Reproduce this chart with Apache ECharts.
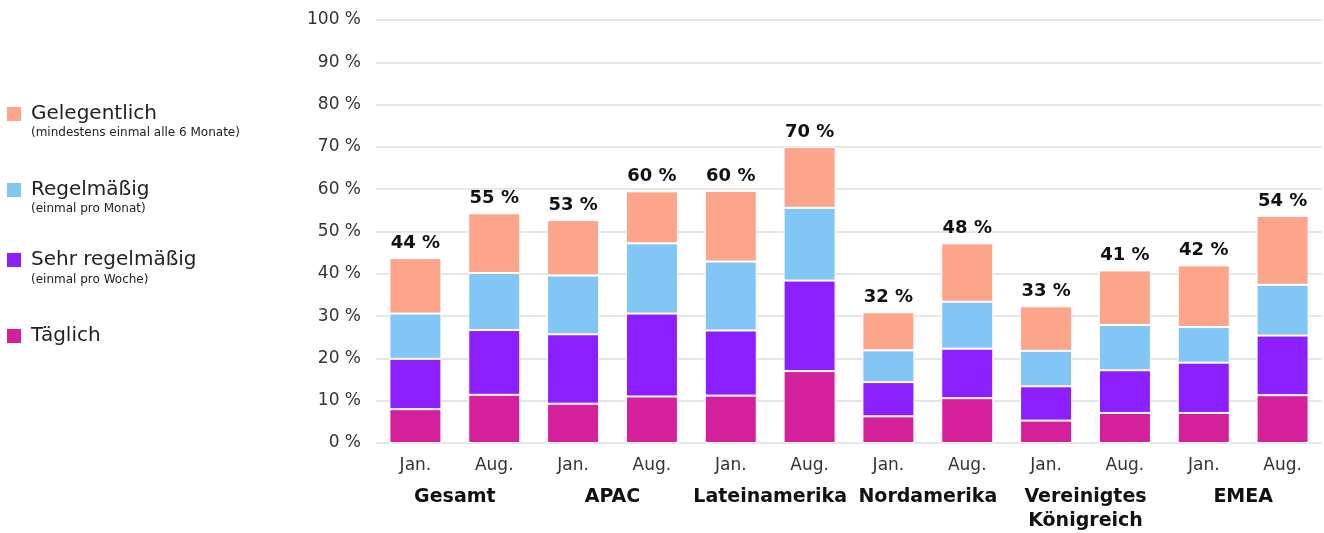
<!DOCTYPE html>
<html>
<head>
<meta charset="utf-8">
<script src="https://cdn.jsdelivr.net/npm/echarts@6/dist/echarts.min.js"></script>
<style>
html,body{margin:0;padding:0;background:#fff;}
#c{width:1324px;height:533px;}
</style>
</head>
<body>
<div id="c"></div>
<script>
const months = ['Jan.','Aug.','Jan.','Aug.','Jan.','Aug.','Jan.','Aug.','Jan.','Aug.','Jan.','Aug.'];
const regions = ['Gesamt','APAC','Lateinamerika','Nordamerika','Vereinigtes\nKönigreich','EMEA'];
const taeglich      = [8.0, 11.4, 9.3, 11.0, 11.2, 17.0, 6.3, 10.6, 5.3, 7.1, 7.1, 11.3];
const sehrRegel     = [11.9, 15.3, 16.4, 19.6, 15.4, 21.4, 8.1, 11.7, 8.1, 10.1, 11.9, 14.1];
const regelmaessig  = [10.7, 13.5, 13.9, 16.6, 16.3, 17.2, 7.5, 11.1, 8.4, 10.7, 8.4, 12.0];
const gelegentlich  = [13.1, 14.1, 13.1, 12.3, 16.7, 14.4, 9.0, 13.8, 10.5, 12.9, 14.6, 16.3];
const totals        = [44, 55, 53, 60, 60, 70, 32, 48, 33, 41, 42, 54];
const yTicks = [0,10,20,30,40,50,60,70,80,90,100];

const seriesNames = ['Täglich','Sehr regelmäßig','Regelmäßig','Gelegentlich'];
const legendOrder = ['Gelegentlich','Regelmäßig','Sehr regelmäßig','Täglich'];
const subtitles = ['(mindestens einmal alle 6 Monate)','(einmal pro Monat)','(einmal pro Woche)',''];
const colors = ['#D4219B','#8B1FFF','#81C6F4','#FDA58A'];
const seriesData = [taeglich, sehrRegel, regelmaessig, gelegentlich];
const FONT = '"DejaVu Sans", Verdana, sans-serif';

// vertical centres of the legend squares / subtitle lines
const legendCenters = [112, 188, 258, 334];
const subCenters = [133, 209, 280, 0];

const chart = echarts.init(document.getElementById('c'));
const series = seriesData.map((d,i)=>({
  name: seriesNames[i],
  type:'bar',
  stack:'total',
  xAxisIndex:0,
  barWidth:52,
  data:d,
  itemStyle:{color:colors[i], borderColor:'#fff', borderWidth:1},
  label: i===3 ? {
    show:true, position:'top', distance:6,
    formatter:p=>totals[p.dataIndex]+' %',
    fontFamily:FONT, fontSize:18, fontWeight:'bold', color:'#111'
  } : {show:false}
}));

const legends = legendOrder.map((n,i)=>({
  orient:'vertical', left:5, top:legendCenters[i]-8, padding:0,
  data:[n], icon:'rect', itemWidth:16, itemHeight:16,
  textStyle:{fontFamily:FONT, fontSize:20, color:'#222', padding:[0,0,0,4]},
  selectedMode:false
}));

const graphics = subtitles.map((s,i)=> s ? {
  type:'text', x:31, y:subCenters[i],
  style:{text:s, font:'12px '+FONT, fill:'#222', verticalAlign:'middle'}
} : null).filter(Boolean);

chart.setOption({
  animation:false,
  color:colors,
  grid:{left:376, right:2, top:20, bottom:88},
  legend:legends,
  graphic:graphics,
  xAxis:[
    {type:'category', data:months, position:'bottom',
     axisLine:{show:false}, axisTick:{show:false},
     axisLabel:{margin:14, interval:0, fontFamily:FONT, fontSize:17, color:'#333'}},
    {type:'category', data:regions, position:'bottom',
     axisLine:{show:false}, axisTick:{show:false}, splitLine:{show:false},
     axisLabel:{margin:42, interval:0, fontFamily:FONT, fontSize:19, fontWeight:'bold', color:'#111', lineHeight:24}}
  ],
  yAxis:{
    type:'value', min:yTicks[0], max:yTicks[yTicks.length-1], interval:10,
    axisLine:{show:false}, axisTick:{show:false},
    axisLabel:{margin:15, formatter:v=>v+' %', fontFamily:FONT, fontSize:17, color:'#333'},
    splitLine:{lineStyle:{color:'#E4E6EE', width:2}}
  },
  series:series
});
</script>
</body>
</html>
